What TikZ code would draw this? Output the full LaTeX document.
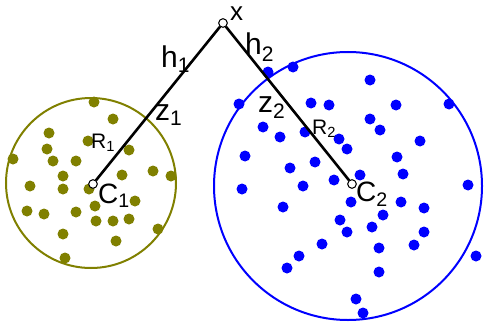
\documentclass[tikz,border=0pt]{standalone}
\usepackage{fontspec}
\setmainfont{Liberation Sans}
\usepackage{tikz}
\usetikzlibrary{positioning}
\definecolor{dotolive}{RGB}{128,128,0}
\definecolor{dotblue}{RGB}{0,0,255}
\begin{document}
\begin{tikzpicture}[x=1pt,y=-1pt,
    pnt/.style={circle,draw=black,fill=white,inner sep=0pt,minimum size=8.5pt,line width=0.9pt},
    lbl/.style={inner sep=0pt,anchor=base west,font=\fontsize{30}{33}\selectfont},
    clbl/.style={inner sep=0pt,anchor=base west,font=\fontsize{28}{31}\selectfont},
    rlbl/.style={inner sep=0pt,anchor=base west,font=\fontsize{21}{24}\selectfont}]
    \useasboundingbox (0,0) rectangle (484,321);
    \draw[dotolive,line width=2pt] (91,183) circle (85pt);
    \draw[dotblue,line width=2pt] (348,186) circle (134pt);
    \foreach \px/\py in {94/102, 113/119, 49/133, 88/141, 47/149, 129/150, 13/159,
      53/161, 76/161, 153/171, 171/176, 63/176, 122/175, 30/186, 63/189, 89/189,
      135/201, 95/206, 27/211, 44/214, 76/212, 96/221, 113/221, 129/219, 158/229,
      63/234, 116/241, 65/258}
      \fill[dotolive] (\px,\py) circle (5.5pt);
    \foreach \px/\py in {268/72, 293/67, 370/80, 239/104, 311/103, 329/105, 396/105,
      449/104, 370/119, 263/127, 280/137, 305/132, 380/130, 339/139, 347/149,
      420/141, 245/156, 315/162, 397/157, 290/168, 334/180, 360/175, 403/174,
      242/189, 303/186, 468/185, 351/202, 401/202, 283/207, 424/208, 383/215,
      340/220, 372/227, 347/232, 424/232, 379/248, 414/245, 322/244, 299/256,
      476/256, 287/268, 379/272, 356/299, 363/313}
      \fill[dotblue] (\px,\py) circle (5.5pt);
    \node[pnt] (x) at (223,23) {};
    \node[pnt] (c1) at (93,184) {};
    \node[pnt] (c2) at (352,184) {};
    \draw[line width=2.6pt] (x) -- (c1);
    \draw[line width=2.6pt] (x) -- (c2);
    \node[pnt] at (x) {};
    \node[pnt] at (c1) {};
    \node[pnt] at (c2) {};
    \node[clbl,font=\fontsize{26}{28}\selectfont,text height=0.55em] (xl) at (230,21) {x};
    \node[lbl] (h1) at (161,67) {h\textsubscript{1}};
    \node[lbl] (h2) at (245,55) {h\textsubscript{2}};
    \node[lbl] (z1) at (155,120) {z\textsubscript{1}};
    \node[lbl] (z2) at (258,112) {z\textsubscript{2}};
    \node[rlbl] (r1) at (91,148) {R\textsubscript{1}};
    \node[rlbl] (r2) at (312,134) {R\textsubscript{2}};
    \node[clbl] (c1l) at (98,203) {C\textsubscript{1}};
    \node[clbl] (c2l) at (356,201) {C\textsubscript{2}};
\end{tikzpicture}
\end{document}
